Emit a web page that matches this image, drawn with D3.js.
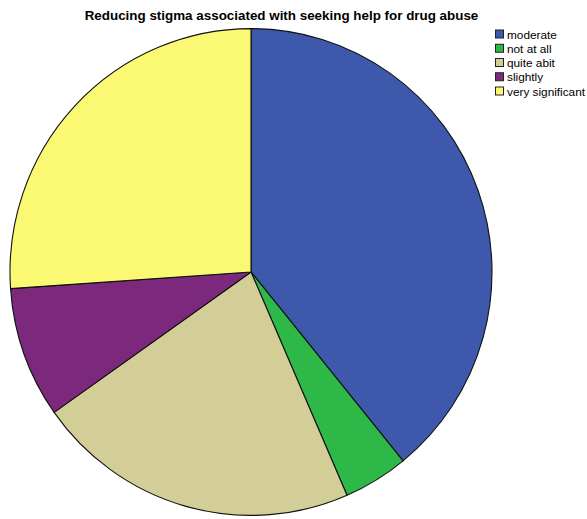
<!DOCTYPE html>
<html>
<head>
<meta charset="utf-8">
<script src="https://cdn.jsdelivr.net/npm/d3@7"></script>
<style>
  html, body { margin: 0; padding: 0; background: #fff; }
  svg { display: block; }
</style>
</head>
<body>
<svg id="chart" width="587" height="519"></svg>
<script>
// Responses (counts) for each answer category
const categories = ["moderate", "not at all", "quite abit", "slightly", "very significant"];
const counts = [18, 2, 10, 4, 12];
const colors = ["#3e58ac", "#2eb848", "#d3ce97", "#7c287d", "#fbf873"];
const title = "Reducing stigma associated with seeking help for drug abuse";

const svg = d3.select("#chart");
const width = 587, height = 519;

const cx = 251, cy = 272, radius = 241;

svg.append("text")
  .attr("x", 281.5)
  .attr("y", 20)
  .attr("text-anchor", "middle")
  .attr("font-family", "Liberation Sans, Arial, sans-serif")
  .attr("font-weight", "bold")
  .attr("font-size", 13.4)
  .attr("fill", "#000")
  .text(title);

const data = categories.map((c, i) => ({ category: c, value: counts[i], color: colors[i] }));

const pie = d3.pie().value(d => d.value).sort(null);
const arc = d3.arc().innerRadius(0).outerRadius(radius);

const g = svg.append("g").attr("transform", `translate(${cx},${cy}) scale(1,1.01)`);

g.selectAll("path")
  .data(pie(data))
  .join("path")
  .attr("d", arc)
  .attr("fill", d => d.data.color)
  .attr("stroke", "#111")
  .attr("stroke-width", 1.1)
  .attr("stroke-linejoin", "round");

// Legend
const legend = svg.append("g").attr("transform", "translate(495,29.5)");
const rows = legend.selectAll("g")
  .data(data)
  .join("g")
  .attr("transform", (d, i) => `translate(0,${i * 14.25})`);

rows.append("rect")
  .attr("x", 0.5).attr("y", 0.5)
  .attr("width", 8).attr("height", 8)
  .attr("fill", d => d.color)
  .attr("stroke", "#222")
  .attr("stroke-width", 1);

rows.append("text")
  .attr("x", 12)
  .attr("y", 9)
  .attr("font-family", "Liberation Sans, Arial, sans-serif")
  .attr("font-size", 11.8)
  .attr("fill", "#000")
  .text(d => d.category);
</script>
</body>
</html>
